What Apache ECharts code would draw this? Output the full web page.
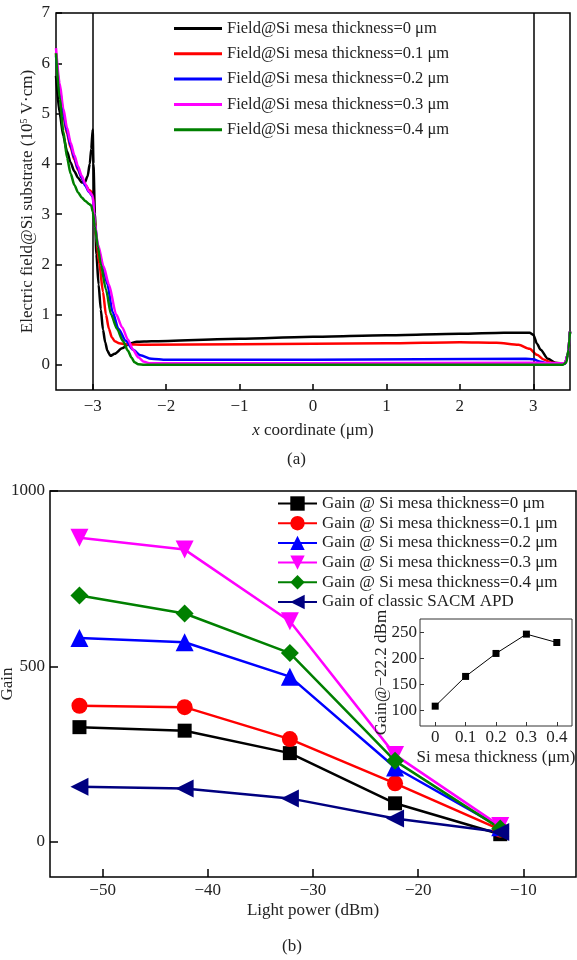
<!DOCTYPE html>
<html>
<head>
<meta charset="utf-8">
<script src="https://cdn.jsdelivr.net/npm/echarts@6/dist/echarts.min.js"></script>
<style>
  html, body { margin: 0; padding: 0; background: #fff; }
  #chart { width: 577px; height: 960px; }
</style>
</head>
<body>
<div id="chart"></div>
<script>
// panel (a): electric field along x, one [x, E] list per mesa thickness
const field0 = [[-3.5,5.75],[-3.45,5.0],[-3.4,4.55],[-3.35,4.25],[-3.3,4.02],[-3.25,3.85],[-3.2,3.72],[-3.15,3.63],[-3.11,3.62],[-3.07,3.75],[-3.04,4.0],[-3.02,4.3],[-3.0,4.68],[-2.99,4.0],[-2.97,3.0],[-2.95,2.2],[-2.92,1.6],[-2.89,1.1],[-2.86,0.7],[-2.83,0.45],[-2.8,0.28],[-2.76,0.18],[-2.7,0.22],[-2.6,0.33],[-2.5,0.42],[-2.4,0.46],[-2.2,0.47],[-1,0.52],[0,0.56],[1,0.59],[2,0.62],[2.6,0.64],[2.95,0.64],[3.0,0.6],[3.05,0.42],[3.1,0.3],[3.2,0.12],[3.3,0.04],[3.43,0.02],[3.47,0.2],[3.5,0.66]];
const field1 = [[-3.5,6.2],[-3.45,5.45],[-3.4,4.95],[-3.35,4.6],[-3.3,4.32],[-3.25,4.08],[-3.2,3.88],[-3.15,3.72],[-3.1,3.58],[-3.05,3.48],[-3.02,3.45],[-3.0,3.4],[-2.98,3.0],[-2.95,2.5],[-2.91,2.0],[-2.86,1.45],[-2.82,1.0],[-2.78,0.72],[-2.74,0.55],[-2.7,0.47],[-2.64,0.43],[-2.55,0.41],[-2.3,0.4],[-1,0.41],[0,0.42],[1,0.43],[2,0.45],[2.5,0.44],[2.8,0.4],[2.95,0.32],[3.05,0.2],[3.15,0.1],[3.25,0.04],[3.43,0.02],[3.47,0.2],[3.5,0.66]];
const field2 = [[-3.5,6.15],[-3.45,5.5],[-3.4,5.0],[-3.35,4.65],[-3.3,4.36],[-3.25,4.12],[-3.2,3.9],[-3.15,3.72],[-3.1,3.56],[-3.05,3.44],[-3.0,3.35],[-2.97,2.8],[-2.93,2.35],[-2.86,1.95],[-2.8,1.6],[-2.73,1.05],[-2.65,0.72],[-2.55,0.48],[-2.45,0.3],[-2.35,0.19],[-2.2,0.12],[-2.0,0.1],[0,0.1],[2.9,0.12],[3.0,0.11],[3.1,0.06],[3.2,0.03],[3.43,0.02],[3.47,0.2],[3.5,0.66]];
const field3 = [[-3.5,6.3],[-3.45,5.6],[-3.4,5.1],[-3.35,4.72],[-3.3,4.42],[-3.25,4.17],[-3.2,3.95],[-3.15,3.76],[-3.1,3.6],[-3.05,3.45],[-3.0,3.37],[-2.97,2.8],[-2.93,2.4],[-2.85,1.95],[-2.78,1.6],[-2.68,1.0],[-2.6,0.75],[-2.52,0.5],[-2.45,0.3],[-2.38,0.15],[-2.3,0.06],[-2.22,0.03],[0,0.03],[3,0.04],[3.43,0.03],[3.47,0.2],[3.5,0.66]];
const field4 = [[-3.5,6.2],[-3.45,5.3],[-3.4,4.65],[-3.35,4.12],[-3.3,3.8],[-3.25,3.58],[-3.2,3.43],[-3.15,3.33],[-3.1,3.26],[-3.05,3.2],[-3.02,3.17],[-3.0,3.05],[-2.97,2.75],[-2.93,2.35],[-2.89,2.0],[-2.82,1.5],[-2.75,1.0],[-2.67,0.72],[-2.59,0.48],[-2.52,0.28],[-2.47,0.14],[-2.43,0.05],[-2.38,0.01],[-2.3,0],[3.4,0],[3.45,0.05],[3.48,0.3],[3.5,0.66]];
const fieldNames = ['Field@Si mesa thickness=0 μm','Field@Si mesa thickness=0.1 μm','Field@Si mesa thickness=0.2 μm','Field@Si mesa thickness=0.3 μm','Field@Si mesa thickness=0.4 μm'];
const xTicksA = [-3,-2,-1,0,1,2,3];
const yTicksA = [0,1,2,3,4,5,6,7];

// panel (b): gain against light power
const lightPower = [-52.2,-42.2,-32.2,-22.2,-12.2];
const gain0 = [327,317,253,110,22];
const gain1 = [388,384,293,167,35];
const gain2 = [581,569,471,212,42];
const gain3 = [867,833,629,248,45];
const gain4 = [702,651,538,231,38];
const gainClassic = [157,152,124,67,28];
const gainNames = ['Gain @ Si mesa thickness=0 μm','Gain @ Si mesa thickness=0.1 μm','Gain @ Si mesa thickness=0.2 μm','Gain @ Si mesa thickness=0.3 μm','Gain @ Si mesa thickness=0.4 μm','Gain of classic SACM APD'];
const xTicksB = [-50,-40,-30,-20,-10];
const yTicksB = [0,500,1000];

// inset: gain at -22.2 dBm vs mesa thickness
const thickness = [0,0.1,0.2,0.3,0.4];
const gainAt222 = [108,165,209,246,230];
const xTicksInset = [0,0.1,0.2,0.3,0.4];
const yTicksInset = [100,150,200,250];

const FONT = 'Liberation Serif';
const TXT = '#222';
const minus = v => String(v).replace('-', '\u2212');

const fieldColors = ['#000000','#ff0000','#0000ff','#ff00ff','#008000'];
const gainColors = ['#000000','#ff0000','#0000ff','#ff00ff','#008000','#000080'];

function valAxis(idx, min, max, ticks, opts) {
  return {
    type: 'value', gridIndex: idx, min: min, max: max, z: opts.z || 2,
    splitLine: { show: false },
    axisLine: { show: false, onZero: false },
    axisTick: { show: true, inside: true, length: opts.tickLen, customValues: ticks, lineStyle: { color: opts.tickColor || '#000', width: opts.tickWidth || 1.5 } },
    axisLabel: { customValues: ticks, formatter: minus, color: TXT, fontFamily: FONT, fontSize: 17, margin: opts.margin },
    name: opts.name, nameGap: opts.nameGap, nameLocation: 'middle', nameMoveOverlap: false,
    nameTextStyle: Object.assign({ color: TXT, fontFamily: FONT, fontSize: 17 }, opts.nameStyle || {})
  };
}

const chart = echarts.init(document.getElementById('chart'));

const fieldSets = [field0, field1, field2, field3, field4];
const gainSets = [gain0, gain1, gain2, gain3, gain4, gainClassic];
const gainSymbols = ['rect','circle','triangle','triangle','diamond','triangle'];
const gainSizes = [14,16,18,18,18,18];
const gainRot = [0,0,0,180,0,90];

const series = [];
fieldSets.forEach((d, i) => {
  const s = {
    name: fieldNames[i], type: 'line', xAxisIndex: 0, yAxisIndex: 0,
    data: d, symbol: 'none', smooth: 0.25, smoothMonotone: 'x',
    lineStyle: { color: fieldColors[i], width: 2.5 }, itemStyle: { color: fieldColors[i] },
    z: 3 + i
  };
  if (i === 0) {
    s.markLine = {
      silent: true, symbol: 'none', label: { show: false },
      lineStyle: { color: '#000', width: 1.5, type: 'solid' },
      data: [{ xAxis: -3 }, { xAxis: 3 }]
    };
  }
  series.push(s);
});
gainSets.forEach((d, i) => {
  series.push({
    name: gainNames[i], type: 'line', xAxisIndex: 1, yAxisIndex: 1,
    data: lightPower.map((x, j) => [x, d[j]]),
    symbol: gainSymbols[i], symbolSize: gainSizes[i], symbolRotate: gainRot[i],
    lineStyle: { color: gainColors[i], width: 2.5 }, itemStyle: { color: gainColors[i] }
  });
});
series.push({
  name: 'inset', type: 'line', xAxisIndex: 2, yAxisIndex: 2,
  data: thickness.map((x, j) => [x, gainAt222[j]]),
  symbol: 'rect', symbolSize: 7,
  lineStyle: { color: '#000', width: 1 }, itemStyle: { color: '#000' }, z: 10
});

chart.setOption({
  animation: false,
  backgroundColor: '#fff',
  textStyle: { fontFamily: FONT },
  grid: [
    { left: 56, top: 13, width: 514, height: 377, show: true, borderColor: '#000', borderWidth: 1.5, outerBoundsMode: 'none' },
    { left: 50, top: 491, width: 526, height: 386, show: true, borderColor: '#000', borderWidth: 1.5, outerBoundsMode: 'none' },
    { left: 420, top: 619, width: 152, height: 107, show: true, borderColor: '#333', borderWidth: 1, backgroundColor: '#fff', z: 5, outerBoundsMode: 'none' }
  ],
  xAxis: [
    valAxis(0, -3.5, 3.5, xTicksA, {
      tickLen: 6, margin: 8, name: '{i|x} coordinate (μm)', nameGap: 32,
      nameStyle: { rich: { i: { fontStyle: 'italic', fontFamily: FONT, fontSize: 17, color: TXT } } }
    }),
    valAxis(1, -55, -5, xTicksB, { tickLen: 8, margin: 5, name: 'Light power (dBm)', nameGap: 25 }),
    valAxis(2, -0.05, 0.45, xTicksInset, { tickLen: 4, tickWidth: 1, tickColor: '#333', margin: 3, name: 'Si mesa thickness (μm)', nameGap: 23, z: 6 })
  ],
  yAxis: [
    valAxis(0, -0.5, 7, yTicksA, {
      tickLen: 6, margin: 6, name: 'Electric field@Si substrate (10{sup|5} V·cm)', nameGap: 19,
      nameStyle: { rich: { sup: { fontSize: 10, fontFamily: FONT, color: TXT, padding: [0, 0, 8, 0] } } }
    }),
    valAxis(1, -100, 1000, yTicksB, { tickLen: 8, margin: 5, name: 'Gain', nameGap: 34 }),
    valAxis(2, 70, 275, yTicksInset, { tickLen: 4, tickWidth: 1, tickColor: '#333', margin: 3, name: 'Gain@\u221222.2 dBm', nameGap: 30, z: 6 })
  ],
  legend: [
    {
      data: fieldNames, left: 174, top: 20, orient: 'vertical', padding: 0,
      icon: 'rect', itemWidth: 48, itemHeight: 3, itemGap: 8.3,
      textStyle: { fontFamily: FONT, fontSize: 16.5, color: TXT }
    },
    {
      data: gainNames, left: 277, top: 495, orient: 'vertical', padding: 0,
      itemWidth: 39, itemHeight: 18, itemGap: 2.7,
      textStyle: { fontFamily: FONT, fontSize: 17, color: TXT }
    }
  ],
  graphic: [
    { type: 'text', left: 287, top: 451, style: { text: '(a)', fontFamily: FONT, fontSize: 17, fill: TXT } },
    { type: 'text', left: 282, top: 938, style: { text: '(b)', fontFamily: FONT, fontSize: 17, fill: TXT } }
  ],
  series: series
});
</script>
</body>
</html>
